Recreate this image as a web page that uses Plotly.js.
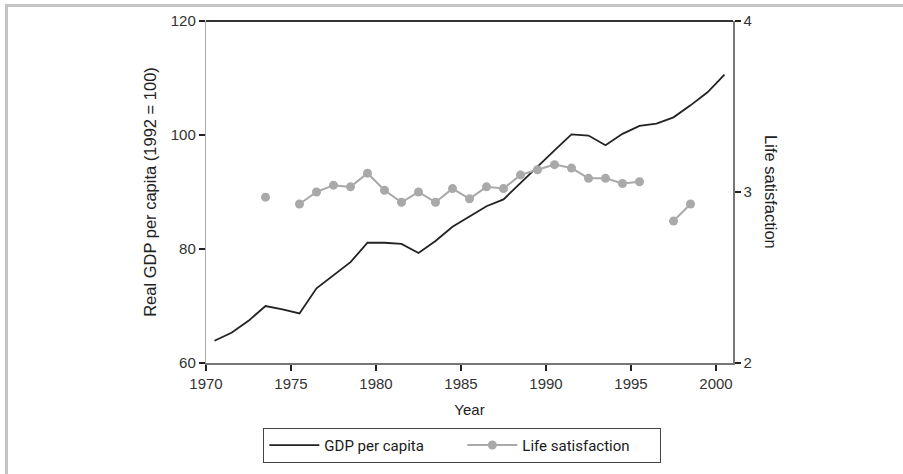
<!DOCTYPE html>
<html>
<head>
<meta charset="utf-8">
<script src="https://cdn.plot.ly/plotly-3.0.1.min.js"></script>
<style>
  html, body { margin: 0; padding: 0; background: #ffffff; }
  #wrap { position: relative; width: 903px; height: 474px; overflow: hidden; }
  #chart { position: absolute; left: 0; top: 0; width: 903px; height: 474px; }
  #frame { position: absolute; left: 5px; top: 4px; right: -10px; bottom: -10px;
           border-top: 3px solid #c4c4c4; border-left: 3px solid #c4c4c4; pointer-events: none; }
</style>
</head>
<body>
<div id="wrap">
  <div id="chart"></div>
  <div id="frame"></div>
</div>
<script>
// GDP per capita (1992 = 100), annual, plotted at mid-year
const gdpYears = [1970,1971,1972,1973,1974,1975,1976,1977,1978,1979,1980,1981,1982,1983,1984,1985,
                  1986,1987,1988,1989,1990,1991,1992,1993,1994,1995,1996,1997,1998,1999,2000];
const gdpValues = [63.9,65.3,67.4,70.0,69.4,68.7,73.1,75.4,77.7,81.1,81.1,80.9,79.3,81.4,83.9,85.7,
                   87.5,88.7,91.6,94.4,97.3,100.1,99.9,98.2,100.2,101.6,102.0,103.1,105.2,107.5,110.6];

// Life satisfaction (right axis), gaps where no survey
const lifeYears = [1973,1974,1975,1976,1977,1978,1979,1980,1981,1982,1983,1984,1985,1986,1987,
                   1988,1989,1990,1991,1992,1993,1994,1995,1996,1997,1998];
const lifeValues = [2.97,null,2.93,3.00,3.04,3.03,3.11,3.01,2.94,3.00,2.94,3.02,2.96,3.03,3.02,
                    3.10,3.13,3.16,3.14,3.08,3.08,3.05,3.06,null,2.83,2.93];

const xTicks = [1970,1975,1980,1985,1990,1995,2000];
const yLeftTicks = [60,80,100,120];
const yRightTicks = [2,3,4];

const midYear = ys => ys.map(y => y + 0.5);

const tickFont = {family: 'Liberation Sans, Arial, sans-serif', size: 15, color: '#333333'};
const titleFont = {family: 'Liberation Sans, Arial, sans-serif', size: 16.5, color: '#222222'};

const traces = [
  {
    x: midYear(gdpYears), y: gdpValues, name: 'GDP per capita',
    type: 'scatter', mode: 'lines',
    line: {color: '#222222', width: 1.8},
    yaxis: 'y'
  },
  {
    x: midYear(lifeYears), y: lifeValues, name: 'Life satisfaction',
    type: 'scatter', mode: 'lines+markers', connectgaps: false,
    line: {color: '#a9a9a9', width: 2},
    marker: {color: '#a9a9a9', size: 9},
    yaxis: 'y2'
  }
];

const layout = {
  width: 903, height: 474,
  margin: {l: 206, r: 170, t: 21, b: 111},
  paper_bgcolor: '#ffffff', plot_bgcolor: '#ffffff',
  showlegend: true,
  xaxis: {
    range: [1970, 2001], tickvals: xTicks, ticktext: xTicks.map(String),
    ticks: 'outside', ticklen: 6, tickcolor: '#222', tickwidth: 1.5,
    showline: true, linecolor: '#777777', linewidth: 1.5,
    showgrid: false, zeroline: false, tickfont: tickFont,
    title: {text: 'Year', font: {family: 'Liberation Sans, Arial, sans-serif', size: 15, color: '#222222'}, standoff: 14}
  },
  yaxis: {
    range: [60, 120], tickvals: yLeftTicks,
    ticks: 'outside', ticklen: 6, tickcolor: '#222', tickwidth: 1.5,
    showline: true, linecolor: '#aaaaaa', linewidth: 1.2,
    showgrid: false, zeroline: false, tickfont: tickFont,
    title: {text: 'Real GDP per capita (1992 = 100)', font: titleFont, standoff: 10}
  },
  yaxis2: {
    range: [2, 4], tickvals: yRightTicks, overlaying: 'y', side: 'right',
    ticks: 'outside', ticklen: 6, tickcolor: '#222', tickwidth: 1.5,
    showline: true, linecolor: '#777777', linewidth: 1.5,
    showgrid: false, zeroline: false, tickfont: tickFont
  },
  shapes: [
    {type: 'line', xref: 'paper', yref: 'paper', x0: 0, x1: 1, y0: 1, y1: 1,
     line: {color: '#333333', width: 2}}
  ],
  annotations: [
    {text: 'Life satisfaction', xref: 'paper', yref: 'paper', x: 1.072, y: 0.5,
     textangle: 90, showarrow: false, font: titleFont, xanchor: 'center', yanchor: 'middle'}
  ],
  legend: {
    orientation: 'h', xref: 'container', x: 0.512, xanchor: 'center',
    yref: 'container', y: 0.0975, yanchor: 'top',
    bordercolor: '#444444', borderwidth: 1, bgcolor: '#ffffff',
    font: {family: 'Roboto, Liberation Sans, sans-serif', size: 15, color: '#1a1a1a'},
    itemwidth: 50, entrywidth: 133, entrywidthmode: 'pixels'
  }
};

Plotly.newPlot('chart', traces, layout, {displayModeBar: false, staticPlot: true});
</script>
</body>
</html>
